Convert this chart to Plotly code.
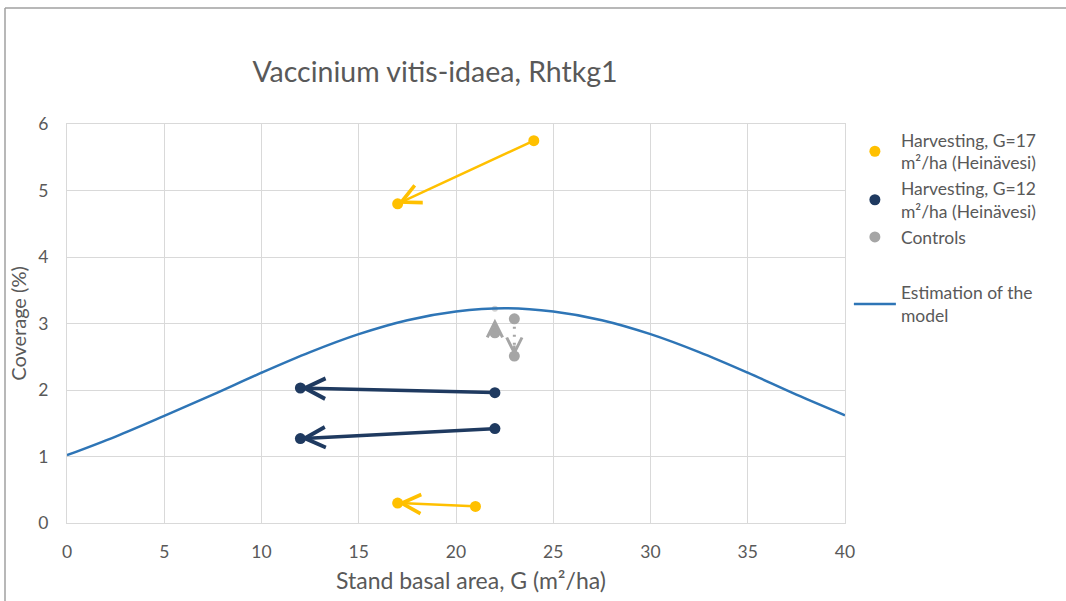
import plotly.graph_objects as go

# Model curve: coverage (%) against stand basal area G (m²/ha)
model_g = [0, 2.5, 5, 7.5, 10, 12.5, 15, 17.5, 20, 22.5, 25, 27.5, 30, 32.5, 35, 37.5, 40]
model_cov = [1.02, 1.30, 1.61, 1.93, 2.26, 2.57, 2.84, 3.05, 3.18, 3.23, 3.18, 3.05, 2.84, 2.57, 2.26, 1.93, 1.62]

# Harvesting, G=17 (before -> after)
h17_g0 = [24, 21]
h17_c0 = [5.75, 0.25]
h17_g1 = [17, 17]
h17_c1 = [4.80, 0.30]

# Harvesting, G=12 (before -> after)
h12_g0 = [22, 22]
h12_c0 = [1.96, 1.42]
h12_g1 = [12, 12]
h12_c1 = [2.03, 1.27]

# Controls (first -> second measurement)
ctl_g0 = [22, 23]
ctl_c0 = [2.86, 3.07]
ctl_g1 = [22, 23]
ctl_c1 = [3.22, 2.51]

YELLOW = "#FFC000"
NAVY = "#1F3A60"
GRAY = "#A5A5A5"
BLUE = "#2E75B6"
TXT = "#595959"
GRID = "#D9D9D9"
FONT = "Lato, 'Open Sans', sans-serif"

ML, MR, MT, MB = 67, 221, 124, 78
W, H = 1066, 601
PW, PH = W - ML - MR, H - MT - MB

fig = go.Figure()

fig.add_trace(go.Scatter(
    x=h17_g0 + h17_g1, y=h17_c0 + h17_c1, mode="markers",
    marker=dict(color=YELLOW, size=11),
    name="Harvesting, G=17<br>m²/ha (Heinävesi)", legendgroup="obs"))
fig.add_trace(go.Scatter(
    x=h12_g0 + h12_g1, y=h12_c0 + h12_c1, mode="markers",
    marker=dict(color=NAVY, size=11),
    name="Harvesting, G=12<br>m²/ha (Heinävesi)", legendgroup="obs"))

# dotted control segment (second plot)
fig.add_trace(go.Scatter(
    x=[ctl_g0[1], ctl_g1[1]], y=[ctl_c0[1], ctl_c1[1]], mode="lines",
    line=dict(color=GRAY, width=3, dash="2px,6px"),
    showlegend=False, hoverinfo="skip"))

fig.add_trace(go.Scatter(
    x=[ctl_g0[0], ctl_g0[1], ctl_g1[1]], y=[ctl_c0[0], ctl_c0[1], ctl_c1[1]],
    mode="markers", marker=dict(color=GRAY, size=11),
    name="Controls", legendgroup="obs"))
# end point of the first control plot, mostly under the model curve
fig.add_trace(go.Scatter(
    x=[ctl_g1[0]], y=[ctl_c1[0]], mode="markers",
    marker=dict(color=GRAY, size=6, opacity=0.5),
    showlegend=False, hoverinfo="skip"))

fig.add_trace(go.Scatter(
    x=model_g, y=model_cov, mode="lines", line=dict(color=BLUE, width=2.5, shape="spline"),
    name="Estimation of the<br>model", legendgroup="model"))

annotations = []


def arrow(x0, y0, x1, y1, color, width, size, standoff=0):
    annotations.append(dict(
        x=x1, y=y1, ax=x0, ay=y0, xref="x", yref="y", axref="x", ayref="y",
        text="", showarrow=True, arrowhead=5, arrowcolor=color,
        arrowwidth=width, arrowsize=size, standoff=standoff))


for a, b, c, d in zip(h17_g0, h17_c0, h17_g1, h17_c1):
    arrow(a, b, c, d, YELLOW, 2.5, 1.5)
for a, b, c, d in zip(h12_g0, h12_c0, h12_g1, h12_c1):
    arrow(a, b, c, d, NAVY, 3.5, 1.15)
arrow(ctl_g0[0], ctl_c0[0], ctl_g1[0], ctl_c1[0], GRAY, 2.5, 1.2, standoff=10)
# arrow head only for the dotted control segment
annotations.append(dict(
    x=ctl_g1[1], y=ctl_c1[1], ax=0, ay=-12, xref="x", yref="y",
    text="", showarrow=True, arrowhead=5, arrowcolor=GRAY,
    arrowwidth=2.5, arrowsize=1.2))

# x-axis title
annotations.append(dict(
    text="Stand basal area, G (m²/ha)", xref="paper", yref="paper",
    x=(471 - ML) / PW, y=-(580 - (H - MB)) / PH, xanchor="center", yanchor="middle",
    showarrow=False, font=dict(size=23, color=TXT, family=FONT)))

# chart frame (left and top edges)
fx = (5 - ML) / PW
fy = (H - MB - 8) / PH
shapes = [
    dict(type="line", xref="paper", yref="paper", x0=fx, x1=fx, y0=-1, y1=fy,
         line=dict(color="#A0A0A0", width=1.5)),
    dict(type="line", xref="paper", yref="paper", x0=fx, x1=3, y0=fy, y1=fy,
         line=dict(color="#A0A0A0", width=1.5)),
]

fig.update_layout(
    width=W, height=H,
    margin=dict(l=ML, r=MR, t=MT, b=MB),
    paper_bgcolor="white", plot_bgcolor="white",
    font=dict(family=FONT, color=TXT, size=17),
    title=dict(text="Vaccinium vitis-idaea, Rhtkg1", x=(435 - ML) / PW, xref="paper",
               xanchor="center", y=1 - 72 / H, yanchor="middle",
               font=dict(size=28.5, color=TXT, family=FONT)),
    xaxis=dict(range=[0, 40], dtick=5, tick0=0, showgrid=True, gridcolor=GRID,
               showline=True, linecolor=GRID, mirror=True, zeroline=False,
               ticks="outside", ticklen=13, tickcolor="rgba(0,0,0,0)",
               tickfont=dict(size=17.5, color=TXT)),
    yaxis=dict(range=[0, 6], dtick=1, tick0=0, showgrid=True, gridcolor=GRID,
               showline=True, linecolor=GRID, mirror=True, zeroline=False,
               ticks="outside", ticklen=14, tickcolor="rgba(0,0,0,0)",
               tickfont=dict(size=17.5, color=TXT),
               title=dict(text="Coverage (%)", font=dict(size=20, color=TXT), standoff=6)),
    legend=dict(x=1.005, xanchor="left", y=1.005, yanchor="top",
                font=dict(size=17.5, color=TXT, family=FONT), itemwidth=42,
                tracegroupgap=30, bgcolor="rgba(0,0,0,0)"),
    annotations=annotations,
    shapes=shapes,
)

fig.write_html("out.html")
